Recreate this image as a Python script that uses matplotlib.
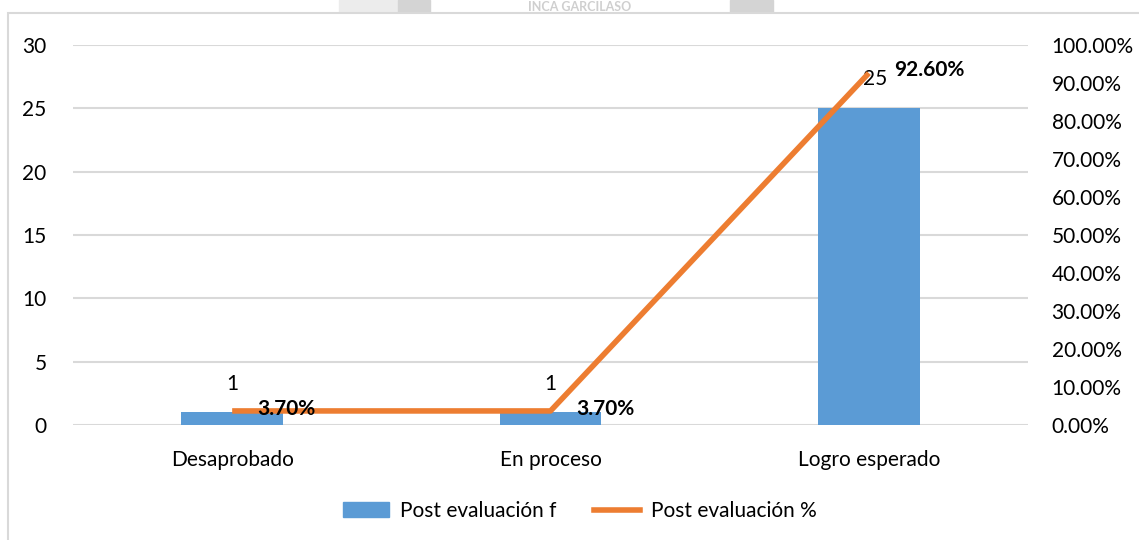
import numpy as np
import matplotlib.pyplot as plt
from matplotlib.patches import Rectangle
from matplotlib.lines import Line2D

plt.rcParams['font.family'] = ['Lato', 'DejaVu Sans']

# Data
categories = ['Desaprobado', 'En proceso', 'Logro esperado']
freq = [1, 1, 25]
pct = [3.70, 3.70, 92.60]
freq_labels = ['1', '1', '25']
pct_labels = ['3.70%', '3.70%', '92.60%']

blue = '#5b9bd5'
orange = '#ed7d31'
grid_c = '#d9d9d9'
fs = 15

fig = plt.figure(figsize=(11.39, 5.4), dpi=100)

# watermark strip above the chart frame
fig.patches.append(Rectangle((339/1139, 1-13/540), 59/1139, 13/540,
                             transform=fig.transFigure, color='#ececec', zorder=0))
fig.patches.append(Rectangle((398/1139, 1-13/540), 32/1139, 13/540,
                             transform=fig.transFigure, color='#d4d4d4', zorder=0))
fig.patches.append(Rectangle((730/1139, 1-13/540), 43/1139, 13/540,
                             transform=fig.transFigure, color='#d4d4d4', zorder=0))
fig.text(580/1139, 1-7/540, 'INCA GARCILASO', ha='center', va='center',
         fontsize=9, fontweight='bold', color='#cfcfcf', zorder=1)
# chart frame
fig.patches.append(Rectangle((8/1139, -0.1), 1.0, 1.1-13/540, transform=fig.transFigure,
                             facecolor='white', edgecolor=grid_c, linewidth=1.5, zorder=2))

ax = fig.add_axes([73/1139, 1-425/540, 955/1139, 380/540], zorder=3)
ax.patch.set_alpha(0)
x = np.arange(len(categories))
ax.bar(x, freq, width=0.32, color=blue, zorder=2)
ax.set_ylim(0, 30)
ax.set_xlim(-0.5, 2.5)
ax.set_yticks(range(0, 31, 5))
ax.set_xticks(x)
ax.set_xticklabels(categories, fontsize=fs)
ax.grid(axis='y', color=grid_c, linewidth=1.5, zorder=0)
for s in ax.spines.values():
    s.set_visible(False)
ax.tick_params(length=0, labelsize=fs, colors='#000000')
ax.tick_params(axis='y', pad=19)
ax.tick_params(axis='x', pad=18)

ax2 = ax.twinx()
ax2.plot(x, pct, color=orange, linewidth=4, solid_capstyle='butt', zorder=3)
ax2.set_ylim(0, 100)
ax2.set_yticks(range(0, 101, 10))
ax2.set_yticklabels([f'{v:.2f}%' for v in range(0, 101, 10)])
for s in ax2.spines.values():
    s.set_visible(False)
ax2.tick_params(length=0, labelsize=fs, pad=17)

# data labels
for i in range(len(categories)):
    if freq[i] < 5:
        ax.text(x[i], 3.2, freq_labels[i], ha='center', va='center', fontsize=fs)
        ax2.text(x[i] + 0.08, 4.2, pct_labels[i], ha='left', va='center',
                 fontsize=fs, fontweight='bold')
    else:
        ax.text(x[i] + 0.02, 27.3, freq_labels[i], ha='center', va='center', fontsize=fs)
        ax2.text(x[i] + 0.08, 93.5, pct_labels[i], ha='left', va='center',
                 fontsize=fs, fontweight='bold')

# legend
handles = [Rectangle((0, 0), 1, 1, color=blue),
           Line2D([0], [0], color=orange, linewidth=4)]
fig.legend(handles, ['Post evaluación f', 'Post evaluación %'],
           loc='center', bbox_to_anchor=(580/1139, 1-511/540), ncol=2,
           frameon=False, fontsize=fs, handlelength=2.2, columnspacing=1.8,
           handletextpad=0.55)

fig.savefig('out.png', dpi=100)
